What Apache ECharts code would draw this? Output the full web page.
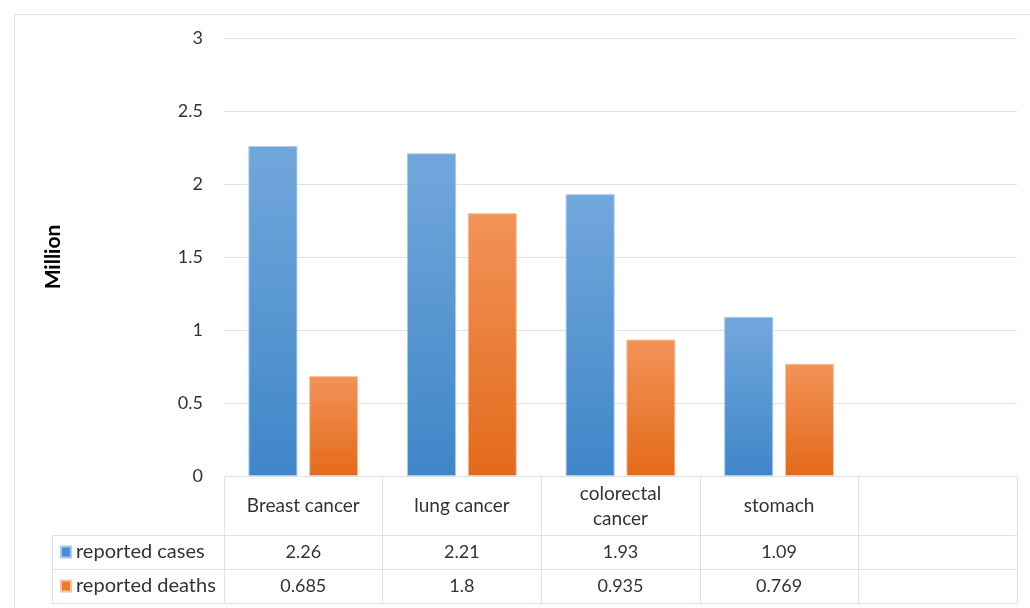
<!DOCTYPE html>
<html>
<head>
<meta charset="utf-8">
<script src="https://cdn.jsdelivr.net/npm/echarts@6/dist/echarts.min.js"></script>
<style>
  html, body { margin: 0; padding: 0; background: #fff; }
  #chart { width: 1030px; height: 608px; }
</style>
</head>
<body>
<div id="chart"></div>
<script>
// Cancer burden: reported cases vs reported deaths (millions)
const categories = ['Breast cancer', 'lung cancer', 'colorectal\ncancer', 'stomach', ''];
const reportedCases = [2.26, 2.21, 1.93, 1.09];
const reportedDeaths = [0.685, 1.8, 0.935, 0.769];
const seriesNames = ['reported cases', 'reported deaths'];
const yTicks = { min: 0, max: 3, interval: 0.5 };

const FONT = 'Lato, "Open Sans", sans-serif';
const TEXT = '#333333';
const RULE = '#dde2ea';

const chart = echarts.init(document.getElementById('chart'), null, { renderer: 'canvas' });

function vGrad(top, bottom) {
  return new echarts.graphic.LinearGradient(0, 0, 0, 1, [
    { offset: 0, color: top },
    { offset: 1, color: bottom }
  ]);
}

function cellText(v) {
  return v === undefined || v === null ? '' : String(v);
}

// Data table under the plot, laid out on the category axis
function renderTable(params, api) {
  const i = api.value(0);
  const p = api.coord([i, 0]);
  const w = api.size([1, 0])[0];
  const left = p[0] - w / 2;
  const right = p[0] + w / 2;
  const y0 = Math.round(p[1]);
  const rowLines = [y0 + 59.5, y0 + 93.5, y0 + 127.5];
  const children = [];
  const hx0 = i === 0 ? left - 172 : left;
  rowLines.forEach(function (y) {
    children.push({ type: 'line', shape: { x1: hx0, y1: y, x2: right, y2: y },
      style: { stroke: RULE, lineWidth: 1 } });
  });
  if (i === 0) {
    const lx = Math.round(left - 172) + 0.5;
    children.push({ type: 'line', shape: { x1: lx, y1: rowLines[0], x2: lx, y2: rowLines[2] },
      style: { stroke: RULE, lineWidth: 1 } });
  }
  [reportedCases[i], reportedDeaths[i]].forEach(function (v, r) {
    children.push({ type: 'text', style: {
      text: cellText(v), x: p[0], y: y0 + 76 + r * 34,
      align: 'center', verticalAlign: 'middle',
      fontSize: 18, fontFamily: FONT, fill: TEXT } });
  });
  return { type: 'group', children: children };
}

const option = {
  animation: false,
  backgroundColor: '#ffffff',
  graphic: [{
    type: 'rect', left: 12, top: 12, z: -10,
    shape: { width: 1060, height: 640 },
    style: { fill: 'none', stroke: '#dfe3ea', lineWidth: 1 }
  }],
  grid: { left: 224, right: 13, top: 38, bottom: 132, containLabel: false },
  legend: {
    orient: 'vertical', left: 60, top: 542, padding: 0,
    icon: 'rect', itemWidth: 10, itemHeight: 11, itemGap: 14,
    selectedMode: false,
    textStyle: { fontSize: 20, fontFamily: FONT, color: TEXT, lineHeight: 20 },
    data: [
      { name: seriesNames[0], itemStyle: { color: '#4a8fd3' } },
      { name: seriesNames[1], itemStyle: { color: '#ee7a2b' } }
    ]
  },
  xAxis: {
    type: 'category', data: categories, boundaryGap: true,
    axisLine: { show: true, lineStyle: { color: RULE, width: 1 } },
    axisTick: { show: true, interval: 0, length: 128, lineStyle: { color: RULE } },
    axisLabel: { interval: 0, margin: 30, verticalAlign: 'middle', lineHeight: 25,
      fontSize: 19, fontFamily: FONT, color: TEXT },
    splitLine: { show: false }
  },
  yAxis: {
    type: 'value', min: yTicks.min, max: yTicks.max, interval: yTicks.interval,
    name: 'Million', nameLocation: 'middle', nameGap: 160, nameRotate: 90,
    nameTextStyle: { fontSize: 21, fontWeight: 'bold', fontFamily: FONT, color: '#000' },
    axisLine: { show: false }, axisTick: { show: false },
    axisLabel: { margin: 21, fontSize: 18, fontFamily: FONT, color: TEXT },
    splitLine: { lineStyle: { color: RULE, width: 1 } }
  },
  series: [
    {
      name: seriesNames[0], type: 'bar', data: reportedCases,
      barWidth: 49, barGap: '24%',
      itemStyle: { color: vGrad('#72a7dc', '#3f86c8'), borderColor: '#a9cbeb', borderWidth: 1 }
    },
    {
      name: seriesNames[1], type: 'bar', data: reportedDeaths,
      barWidth: 49, barGap: '24%',
      itemStyle: { color: vGrad('#f29358', '#e36a1a'), borderColor: '#f7c3a0', borderWidth: 1 }
    },
    {
      name: 'table', type: 'custom', silent: true, clip: false,
      data: categories.map(function (c, i) { return [i, 0]; }),
      encode: { x: 0, y: 1 },
      renderItem: renderTable
    }
  ]
};

chart.setOption(option);
</script>
</body>
</html>
